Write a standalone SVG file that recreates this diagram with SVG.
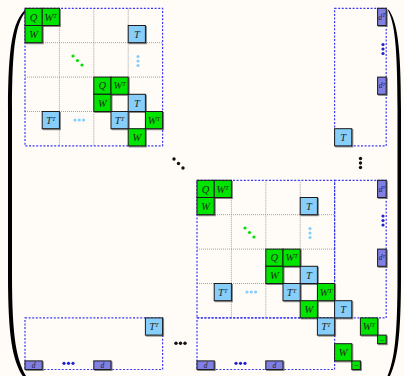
<svg xmlns="http://www.w3.org/2000/svg" width="404" height="376" viewBox="0 0 404 376">
<style>
.cell{stroke:#1a1a1a;stroke-width:1;filter:url(#sh)}
.g{fill:#00e400}
.b{fill:#87cefa}
.p{fill:#7f7fe4}
.box{fill:none;stroke:#3a3af0;stroke-width:1.2;stroke-dasharray:2 1.6}
.grid{stroke:#8a8a8a;stroke-width:0.8;stroke-dasharray:1 1}
.lbl{font-family:"Liberation Serif",serif;font-style:italic;font-size:10.5px;fill:#1e2a1e;text-anchor:middle}
.sm{font-family:"Liberation Serif",serif;font-style:italic;font-size:7.5px;fill:#1e1e40;text-anchor:middle}
.sup{font-size:6.5px}
.dg{fill:#00e000}.dl{fill:#87cefa}.dk{fill:#111}.db{fill:#2020d0}
</style>
<defs>
<filter id="sh" x="-20%" y="-20%" width="150%" height="150%">
<feDropShadow dx="1" dy="1" stdDeviation="0.4" flood-color="#555" flood-opacity="0.7"/>
</filter>
</defs>
<rect width="404" height="376" fill="#fffcf8"/>
<g id="parens" fill="#000">
<path d="M25.5 9.5 C13 21 8 45 8 110 L8 275 C8 340 13 362 24 378 L26 376 C17 360 12 340 12 275 L12 110 C12 45 16 23 26.5 10.5 Z"/>
<path d="M388.5 9.5 C397 21 401 45 401 110 L401 275 C401 340 397 362 389 378 L387.5 376 C394 360 397.5 340 397.5 275 L397.5 110 C397.5 45 394.5 23 388 10.5 Z"/>
</g>
<g id="grid">
<path class="grid" d="M59.4 8.3V145.9M93.8 8.3V145.9M128.2 8.3V145.9M25 42.7H162.6M25 77.1H162.6M25 111.5H162.6"/>
<path class="grid" d="M231.4 180.3V317.9M265.8 180.3V317.9M300.2 180.3V317.9M197 214.7H334.6M197 249.1H334.6M197 283.5H334.6"/>
</g>
<g id="frames">
<rect class="box" x="25" y="8.3" width="137.6" height="137.6"/>
<rect class="box" x="197" y="180.3" width="137.6" height="137.6"/>
<rect class="box" x="334.6" y="8.3" width="51.6" height="137.6"/>
<rect class="box" x="334.6" y="180.3" width="51.6" height="137.6"/>
<rect class="box" x="25" y="317.9" width="137.6" height="51.6"/>
<rect class="box" x="197" y="317.9" width="137.6" height="51.6"/>
</g>
<g id="connectors"/>
<g id="block1">
<g id="b1-q1"><rect class="cell g" x="25" y="8.3" width="17.2" height="17.2"/><text class="lbl" x="33.6" y="20.5">Q</text></g>
<g id="b1-wt1"><rect class="cell g" x="42.2" y="8.3" width="17.2" height="17.2"/><text class="lbl" x="50.8" y="20.5">W<tspan class="sup" dy="-3">T</tspan></text></g>
<g id="b1-w1"><rect class="cell g" x="25" y="25.5" width="17.2" height="17.2"/><text class="lbl" x="33.6" y="37.7">W</text></g>
<g id="b1-t1"><rect class="cell b" x="128.2" y="25.5" width="17.2" height="17.2"/><text class="lbl" x="136.8" y="37.7">T</text></g>
<g id="b1-q2"><rect class="cell g" x="93.8" y="77.1" width="17.2" height="17.2"/><text class="lbl" x="102.4" y="89.3">Q</text></g>
<g id="b1-wt2"><rect class="cell g" x="111" y="77.1" width="17.2" height="17.2"/><text class="lbl" x="119.6" y="89.3">W<tspan class="sup" dy="-3">T</tspan></text></g>
<g id="b1-w2"><rect class="cell g" x="93.8" y="94.3" width="17.2" height="17.2"/><text class="lbl" x="102.4" y="106.5">W</text></g>
<g id="b1-t2"><rect class="cell b" x="128.2" y="94.3" width="17.2" height="17.2"/><text class="lbl" x="136.8" y="106.5">T</text></g>
<g id="b1-tt1"><rect class="cell b" x="42.2" y="111.5" width="17.2" height="17.2"/><text class="lbl" x="50.8" y="123.7">T<tspan class="sup" dy="-3">T</tspan></text></g>
<g id="b1-tt2"><rect class="cell b" x="111" y="111.5" width="17.2" height="17.2"/><text class="lbl" x="119.6" y="123.7">T<tspan class="sup" dy="-3">T</tspan></text></g>
<g id="b1-wt3"><rect class="cell g" x="145.4" y="111.5" width="17.2" height="17.2"/><text class="lbl" x="154" y="123.7">W<tspan class="sup" dy="-3">T</tspan></text></g>
<g id="b1-w3"><rect class="cell g" x="128.2" y="128.7" width="17.2" height="17.2"/><text class="lbl" x="136.8" y="140.9">W</text></g>
<g id="b1-dots"><circle class="dg" cx="73" cy="56" r="1.6"/><circle class="dg" cx="77.5" cy="60.5" r="1.6"/><circle class="dg" cx="82" cy="65" r="1.6"/>
<circle class="dl" cx="138" cy="56.5" r="1.6"/><circle class="dl" cx="138" cy="61" r="1.6"/><circle class="dl" cx="138" cy="65.5" r="1.6"/>
<circle class="dl" cx="75" cy="120" r="1.6"/><circle class="dl" cx="79.3" cy="120" r="1.6"/><circle class="dl" cx="83.6" cy="120" r="1.6"/></g>
</g>
<g id="block2">
<g id="b2-q1"><rect class="cell g" x="197" y="180.3" width="17.2" height="17.2"/><text class="lbl" x="205.6" y="192.5">Q</text></g>
<g id="b2-wt1"><rect class="cell g" x="214.2" y="180.3" width="17.2" height="17.2"/><text class="lbl" x="222.8" y="192.5">W<tspan class="sup" dy="-3">T</tspan></text></g>
<g id="b2-w1"><rect class="cell g" x="197" y="197.5" width="17.2" height="17.2"/><text class="lbl" x="205.6" y="209.7">W</text></g>
<g id="b2-t1"><rect class="cell b" x="300.2" y="197.5" width="17.2" height="17.2"/><text class="lbl" x="308.8" y="209.7">T</text></g>
<g id="b2-q2"><rect class="cell g" x="265.8" y="249.1" width="17.2" height="17.2"/><text class="lbl" x="274.4" y="261.3">Q</text></g>
<g id="b2-wt2"><rect class="cell g" x="283" y="249.1" width="17.2" height="17.2"/><text class="lbl" x="291.6" y="261.3">W<tspan class="sup" dy="-3">T</tspan></text></g>
<g id="b2-w2"><rect class="cell g" x="265.8" y="266.3" width="17.2" height="17.2"/><text class="lbl" x="274.4" y="278.5">W</text></g>
<g id="b2-t2"><rect class="cell b" x="300.2" y="266.3" width="17.2" height="17.2"/><text class="lbl" x="308.8" y="278.5">T</text></g>
<g id="b2-tt1"><rect class="cell b" x="214.2" y="283.5" width="17.2" height="17.2"/><text class="lbl" x="222.8" y="295.7">T<tspan class="sup" dy="-3">T</tspan></text></g>
<g id="b2-tt2"><rect class="cell b" x="283" y="283.5" width="17.2" height="17.2"/><text class="lbl" x="291.6" y="295.7">T<tspan class="sup" dy="-3">T</tspan></text></g>
<g id="b2-wt3"><rect class="cell g" x="317.4" y="283.5" width="17.2" height="17.2"/><text class="lbl" x="326" y="295.7">W<tspan class="sup" dy="-3">T</tspan></text></g>
<g id="b2-w3"><rect class="cell g" x="300.2" y="300.7" width="17.2" height="17.2"/><text class="lbl" x="308.8" y="312.9">W</text></g>
<g id="b2-dots"><circle class="dg" cx="245" cy="228" r="1.6"/><circle class="dg" cx="249.5" cy="232.5" r="1.6"/><circle class="dg" cx="254" cy="237" r="1.6"/>
<circle class="dl" cx="310" cy="228.5" r="1.6"/><circle class="dl" cx="310" cy="233" r="1.6"/><circle class="dl" cx="310" cy="237.5" r="1.6"/>
<circle class="dl" cx="247" cy="292" r="1.6"/><circle class="dl" cx="251.3" cy="292" r="1.6"/><circle class="dl" cx="255.6" cy="292" r="1.6"/></g>
</g>
<g id="right-col">
<g id="r1-dt1"><rect class="cell p" x="377.6" y="8.3" width="8.6" height="17.2"/><text class="sm" x="381.9" y="19.5">d<tspan class="sup" font-size="5" dy="-2.5">T</tspan></text></g>
<g id="r1-dt2"><rect class="cell p" x="377.6" y="77.1" width="8.6" height="17.2"/><text class="sm" x="381.9" y="88.3">d<tspan font-size="5" dy="-2.5">T</tspan></text></g>
<g id="r1-t"><rect class="cell b" x="334.6" y="128.7" width="17.2" height="17.2"/><text class="lbl" x="343.2" y="140.9">T</text></g>
<g id="r2-dt1"><rect class="cell p" x="377.6" y="180.3" width="8.6" height="17.2"/><text class="sm" x="381.9" y="191.5">d<tspan font-size="5" dy="-2.5">T</tspan></text></g>
<g id="r2-dt2"><rect class="cell p" x="377.6" y="249.1" width="8.6" height="17.2"/><text class="sm" x="381.9" y="260.3">d<tspan font-size="5" dy="-2.5">T</tspan></text></g>
<g id="r2-t"><rect class="cell b" x="334.6" y="300.7" width="17.2" height="17.2"/><text class="lbl" x="343.2" y="312.9">T</text></g>
<g id="r-dots"><circle class="db" cx="383" cy="44.5" r="1.6"/><circle class="db" cx="383" cy="49" r="1.6"/><circle class="db" cx="383" cy="53.5" r="1.6"/>
<circle class="db" cx="383" cy="216" r="1.6"/><circle class="db" cx="383" cy="220.5" r="1.6"/><circle class="db" cx="383" cy="225" r="1.6"/></g>
</g>
<g id="bottom-row">
<g id="c1-tt"><rect class="cell b" x="145.4" y="317.9" width="17.2" height="17.2"/><text class="lbl" x="154" y="330.1">T<tspan class="sup" dy="-3">T</tspan></text></g>
<g id="c1-d1"><rect class="cell p" x="25" y="360.9" width="17.2" height="8.6"/><text class="sm" x="33.6" y="368">d</text></g>
<g id="c1-d2"><rect class="cell p" x="93.8" y="360.9" width="17.2" height="8.6"/><text class="sm" x="102.4" y="368">d</text></g>
<g id="c2-tt"><rect class="cell b" x="317.4" y="317.9" width="17.2" height="17.2"/><text class="lbl" x="326" y="330.1">T<tspan class="sup" dy="-3">T</tspan></text></g>
<g id="c2-d1"><rect class="cell p" x="197" y="360.9" width="17.2" height="8.6"/><text class="sm" x="205.6" y="368">d</text></g>
<g id="c2-d2"><rect class="cell p" x="265.8" y="360.9" width="17.2" height="8.6"/><text class="sm" x="274.4" y="368">d</text></g>
<g id="c-dots"><circle class="db" cx="64" cy="363.3" r="1.6"/><circle class="db" cx="68.5" cy="363.3" r="1.6"/><circle class="db" cx="73" cy="363.3" r="1.6"/>
<circle class="db" cx="236" cy="363.3" r="1.6"/><circle class="db" cx="240.5" cy="363.3" r="1.6"/><circle class="db" cx="245" cy="363.3" r="1.6"/></g>
</g>
<g id="corner">
<g id="k-wt"><rect class="cell g" x="360.4" y="317.9" width="17.2" height="17.2"/><text class="lbl" x="369" y="330.1">W<tspan class="sup" dy="-3">T</tspan></text></g>
<g id="k-s1"><rect class="cell g" x="377.6" y="335.1" width="8.6" height="8.6"/><text class="sm" x="381.9" y="341.5">–</text></g>
<g id="k-w"><rect class="cell g" x="334.6" y="343.7" width="17.2" height="17.2"/><text class="lbl" x="343.2" y="355.9">W</text></g>
<g id="k-s2"><rect class="cell g" x="351.8" y="360.9" width="8.6" height="8.6"/><text class="sm" x="356.1" y="367.3">–</text></g>
</g>
<g id="ellipses">
<circle class="dk" cx="174" cy="159" r="1.7"/><circle class="dk" cx="178.5" cy="163.5" r="1.7"/><circle class="dk" cx="183" cy="168" r="1.7"/>
<circle class="dk" cx="360.5" cy="158.5" r="1.7"/><circle class="dk" cx="360.5" cy="163" r="1.7"/><circle class="dk" cx="360.5" cy="167.5" r="1.7"/>
<circle class="dk" cx="176" cy="343.3" r="1.7"/><circle class="dk" cx="180.5" cy="343.3" r="1.7"/><circle class="dk" cx="185" cy="343.3" r="1.7"/>
</g>
</svg>
